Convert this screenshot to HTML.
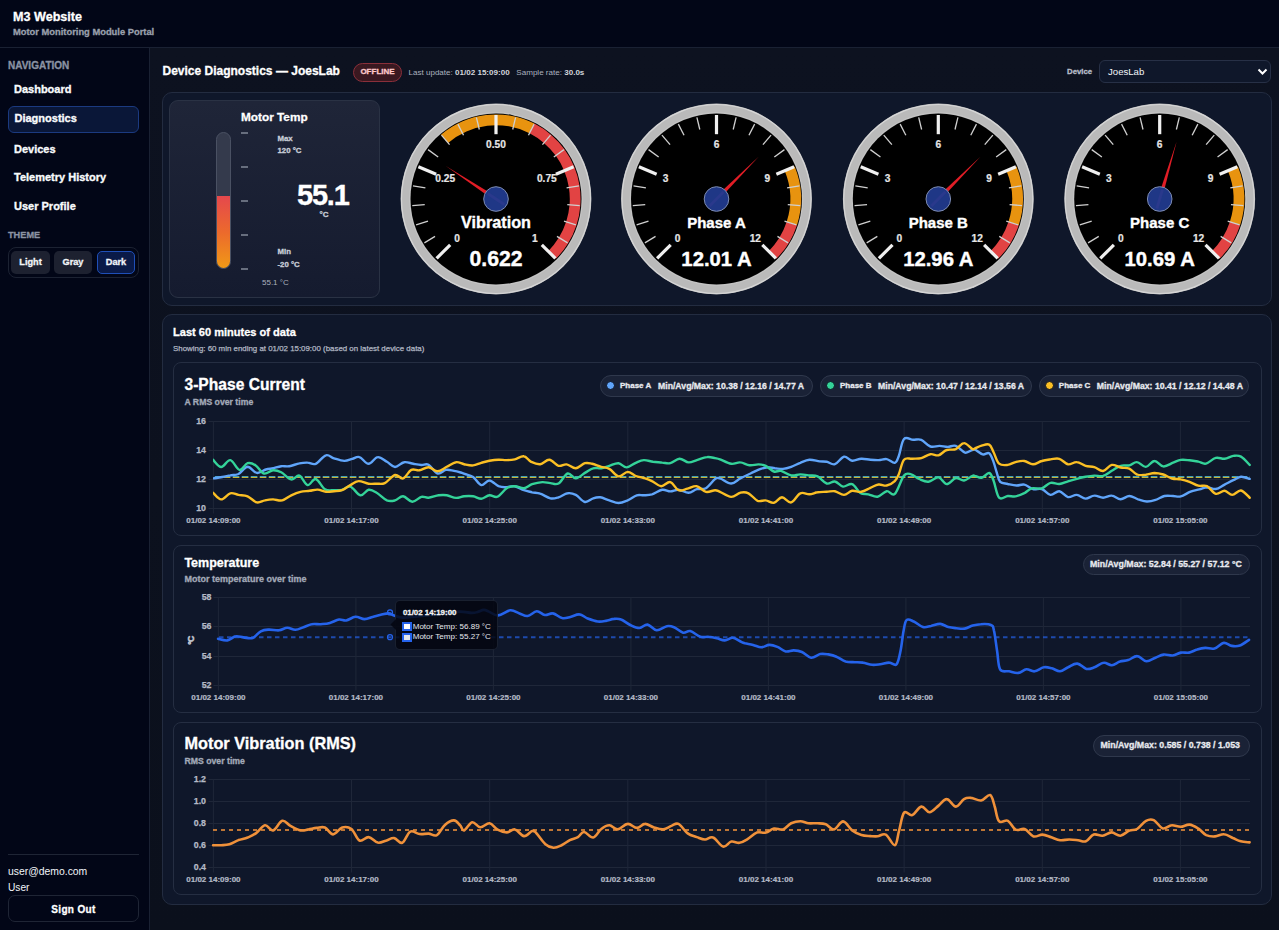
<!DOCTYPE html>
<html><head><meta charset="utf-8"><title>M3 Website</title>
<style>
*{box-sizing:border-box;margin:0;padding:0}
html,body{width:1279px;height:930px;overflow:hidden}
body{font-family:"Liberation Sans",sans-serif;background:#0b101c;color:#e5e7eb;position:relative}
.abs{position:absolute}
.hdr{left:0;top:0;width:1279px;height:48px;background:#020617;border-bottom:1px solid #1a2133}
.side{left:0;top:48px;width:150px;height:882px;background:#020617;border-right:1px solid #1a2133}
.main{left:150px;top:48px;width:1129px;height:882px;background:linear-gradient(180deg,#0d1220 0%,#0b101c 100%)}
.t{position:absolute;white-space:nowrap;line-height:1}
.b{font-weight:bold;-webkit-text-stroke:0.3px currentColor}
.nav{-webkit-text-stroke:0.35px currentColor}
.nav{color:#f8fafc;font-weight:bold;font-size:11px}
.card{position:absolute;border:1px solid #232c40;border-radius:10px;background:#0f172a}
.pill{position:absolute;border:1px solid #2f384c;border-radius:11px;background:#1a2236;height:21.8px}
</style></head>
<body>
<div class="abs hdr"></div>
<div class="t b" style="left:13px;top:11px;font-size:12.6px;color:#fff">M3 Website</div>
<div class="t b" style="left:13px;top:28px;font-size:9.35px;color:#9aa0ad">Motor Monitoring Module Portal</div>
<div class="abs side"></div>
<div class="t b" style="left:8px;top:60.5px;font-size:10px;color:#8b93a3">NAVIGATION</div>
<div class="abs" style="left:8px;top:106px;width:131px;height:27px;background:#0a1738;border:1px solid #1b3a80;border-radius:6px"></div>
<div class="t nav" style="left:14px;top:83.9px">Dashboard</div>
<div class="t nav" style="left:14.5px;top:113px">Diagnostics</div>
<div class="t nav" style="left:14px;top:143.9px">Devices</div>
<div class="t nav" style="left:14px;top:171.9px">Telemetry History</div>
<div class="t nav" style="left:14px;top:200.9px">User Profile</div>
<div class="t b" style="left:8px;top:230.5px;font-size:9.2px;color:#8b93a3">THEME</div>
<div class="abs" style="left:8px;top:247px;width:131px;height:31px;border:1px solid #1c2232;border-radius:8px"></div>
<div class="abs" style="left:11px;top:251px;width:39px;height:23px;background:#1d2130;border-radius:5px"></div>
<div class="abs" style="left:54px;top:251px;width:38px;height:23px;background:#1d2130;border-radius:5px"></div>
<div class="abs" style="left:97px;top:251px;width:38px;height:23px;background:#0a1a48;border:1px solid #1f4fb8;border-radius:5px"></div>
<div class="t b" style="left:10.5px;width:40px;text-align:center;top:258px;font-size:9.2px;color:#f1f5f9">Light</div>
<div class="t b" style="left:53px;width:40px;text-align:center;top:258px;font-size:9.2px;color:#f1f5f9">Gray</div>
<div class="t b" style="left:96px;width:40px;text-align:center;top:258px;font-size:9.2px;color:#f1f5f9">Dark</div>
<div class="abs" style="left:8px;top:854px;width:131px;height:1px;background:#1f2535"></div>
<div class="t" style="left:8px;top:866.8px;font-size:10.4px;color:#f1f5f9">user@demo.com</div>
<div class="t" style="left:8px;top:882.8px;font-size:10.2px;color:#f1f5f9">User</div>
<div class="abs" style="left:8px;top:895px;width:131px;height:27px;border:1px solid #1f2535;border-radius:7px"></div>
<div class="t b" style="left:8px;width:131px;text-align:center;top:904.8px;font-size:10px;letter-spacing:0.35px;color:#fff">Sign Out</div>
<div class="abs main"></div>
<div class="t b" style="left:162.5px;top:64.6px;font-size:12px;color:#fff">Device Diagnostics — JoesLab</div>
<div class="abs" style="left:353px;top:63px;width:49px;height:19px;border:1px solid #8a2f3a;background:#3a1820;border-radius:10px"></div>
<div class="t b" style="left:353px;width:49px;text-align:center;top:68.3px;font-size:8px;color:#fecaca">OFFLINE</div>
<div class="t" style="left:408.5px;top:68.7px;font-size:8.05px;color:#aab1be">Last update: <b style="color:#d1d5db">01/02 15:09:00</b>&nbsp;&nbsp; Sample rate: <b style="color:#d1d5db">30.0s</b></div>
<div class="t b" style="left:1067px;top:68px;font-size:7.8px;color:#b8bec9">Device</div>
<div class="abs" style="left:1099px;top:60px;width:172px;height:23px;border:1px solid #273046;background:#0f172a;border-radius:6px"></div>
<div class="t" style="left:1108px;top:67px;font-size:9.6px;color:#f1f5f9">JoesLab</div>
<svg class="abs" style="left:1257px;top:68px" width="11" height="8" viewBox="0 0 11 8"><path d="M1.5 1.5 L5.5 5.5 L9.5 1.5" fill="none" stroke="#fff" stroke-width="2"/></svg>
<div class="card" style="left:162px;top:92px;width:1110px;height:214px;background:#0f172a"></div>
<div class="abs" style="left:169px;top:100px;width:211px;height:198px;border:1px solid #2a3244;border-radius:9px;background:linear-gradient(180deg,#1f2538 0%,#151b2f 100%)"></div>
<div class="t b" style="left:241px;top:112px;font-size:11.8px;color:#fff">Motor Temp</div>
<div class="abs" style="left:216px;top:132px;width:15px;height:137px;border:1px solid #4a5163;border-radius:8px;background:#343a4c;overflow:hidden"><div class="abs" style="left:0;top:63px;width:13px;height:73px;background:linear-gradient(180deg,#e5484d 0%,#ec6a2c 50%,#f09a16 100%)"></div></div>
<div class="abs" style="left:241px;top:132px;width:7px;height:2px;background:#676e7e"></div>
<div class="abs" style="left:241px;top:166px;width:7px;height:2px;background:#676e7e"></div>
<div class="abs" style="left:241px;top:200px;width:7px;height:2px;background:#676e7e"></div>
<div class="abs" style="left:241px;top:234px;width:7px;height:2px;background:#676e7e"></div>
<div class="abs" style="left:241px;top:268px;width:7px;height:2px;background:#676e7e"></div>
<div class="t b" style="left:277.5px;top:134.5px;font-size:7.8px;color:#c9ced8">Max</div>
<div class="t b" style="left:277.5px;top:147px;font-size:7.8px;color:#c9ced8">120 °C</div>
<div class="t b" style="left:297px;top:180.8px;font-size:29px;letter-spacing:-1.2px;color:#fff">55.1</div>
<div class="t b" style="left:319.5px;top:210.5px;font-size:8px;color:#c9ced8">°C</div>
<div class="t b" style="left:277.5px;top:247.5px;font-size:7.8px;color:#c9ced8">Min</div>
<div class="t b" style="left:277.5px;top:261px;font-size:7.8px;color:#c9ced8">-20 °C</div>
<div class="t" style="left:262px;top:279px;font-size:8px;color:#aab0bc">55.1 °C</div>
<svg class="abs" style="left:0;top:0" width="1279" height="320" viewBox="0 0 1279 320" font-family="Liberation Sans, sans-serif">
<circle cx="496" cy="199" r="95.4" fill="#bababa"/>
<circle cx="496" cy="199" r="94.5" fill="none" stroke="#d6d6d6" stroke-width="1.1"/>
<circle cx="496" cy="199" r="86.3" fill="none" stroke="#c6c6c6" stroke-width="0.9"/>
<circle cx="496" cy="199" r="85.5" fill="#000"/>
<path d="M441.06 134.67 A84.6 84.6 0 0 1 534.41 123.62 L529.50 133.24 A73.8 73.8 0 0 0 448.07 142.88Z" fill="#e8930f"/>
<path d="M534.41 123.62 A84.6 84.6 0 0 1 555.82 258.82 L548.18 251.18 A73.8 73.8 0 0 0 529.50 133.24Z" fill="#e24343"/>
<line x1="424.38" y1="242.89" x2="435.04" y2="236.36" stroke="#d0d0d0" stroke-width="1.3"/>
<line x1="416.11" y1="224.96" x2="428.00" y2="221.09" stroke="#d0d0d0" stroke-width="1.3"/>
<line x1="412.26" y1="205.59" x2="424.72" y2="204.61" stroke="#d0d0d0" stroke-width="1.3"/>
<line x1="413.03" y1="185.86" x2="425.38" y2="187.81" stroke="#d0d0d0" stroke-width="1.3"/>
<line x1="428.04" y1="149.63" x2="438.16" y2="156.97" stroke="#d0d0d0" stroke-width="1.3"/>
<line x1="441.45" y1="135.13" x2="449.56" y2="144.63" stroke="#d0d0d0" stroke-width="1.3"/>
<line x1="457.86" y1="124.16" x2="463.54" y2="135.29" stroke="#d0d0d0" stroke-width="1.3"/>
<line x1="476.39" y1="117.32" x2="479.31" y2="129.48" stroke="#d0d0d0" stroke-width="1.3"/>
<line x1="515.61" y1="117.32" x2="512.69" y2="129.48" stroke="#d0d0d0" stroke-width="1.3"/>
<line x1="534.14" y1="124.16" x2="528.46" y2="135.29" stroke="#d0d0d0" stroke-width="1.3"/>
<line x1="550.55" y1="135.13" x2="542.44" y2="144.63" stroke="#d0d0d0" stroke-width="1.3"/>
<line x1="563.96" y1="149.63" x2="553.84" y2="156.97" stroke="#d0d0d0" stroke-width="1.3"/>
<line x1="578.97" y1="185.86" x2="566.62" y2="187.81" stroke="#d0d0d0" stroke-width="1.3"/>
<line x1="579.74" y1="205.59" x2="567.28" y2="204.61" stroke="#d0d0d0" stroke-width="1.3"/>
<line x1="575.89" y1="224.96" x2="564.00" y2="221.09" stroke="#d0d0d0" stroke-width="1.3"/>
<line x1="567.62" y1="242.89" x2="556.96" y2="236.36" stroke="#d0d0d0" stroke-width="1.3"/>
<line x1="436.60" y1="258.40" x2="450.18" y2="244.82" stroke="#f0f0f0" stroke-width="3.2"/>
<text x="457.11" y="241.79" text-anchor="middle" font-size="10.2" font-weight="bold" fill="#e6e6e6" stroke="#e6e6e6" stroke-width="0.2">0</text>
<line x1="418.39" y1="166.85" x2="436.13" y2="174.20" stroke="#f0f0f0" stroke-width="3.2"/>
<text x="445.19" y="181.85" text-anchor="middle" font-size="10.2" font-weight="bold" fill="#e6e6e6" stroke="#e6e6e6" stroke-width="0.2">0.25</text>
<line x1="496.00" y1="115.00" x2="496.00" y2="134.20" stroke="#f0f0f0" stroke-width="3.2"/>
<text x="496.00" y="147.90" text-anchor="middle" font-size="10.2" font-weight="bold" fill="#e6e6e6" stroke="#e6e6e6" stroke-width="0.2">0.50</text>
<line x1="573.61" y1="166.85" x2="555.87" y2="174.20" stroke="#f0f0f0" stroke-width="3.2"/>
<text x="546.81" y="181.85" text-anchor="middle" font-size="10.2" font-weight="bold" fill="#e6e6e6" stroke="#e6e6e6" stroke-width="0.2">0.75</text>
<line x1="555.40" y1="258.40" x2="541.82" y2="244.82" stroke="#f0f0f0" stroke-width="3.2"/>
<text x="534.89" y="241.79" text-anchor="middle" font-size="10.2" font-weight="bold" fill="#e6e6e6" stroke="#e6e6e6" stroke-width="0.2">1</text>
<text x="496" y="227.8" text-anchor="middle" font-size="16.2" font-weight="bold" fill="#fff" stroke="#fff" stroke-width="0.35">Vibration</text>
<text x="496" y="265.7" text-anchor="middle" font-size="21.2" font-weight="bold" fill="#fff" stroke="#fff" stroke-width="0.4">0.622</text>
<path d="M494.79 200.84 L445.85 166.06 L497.21 197.16Z" fill="#e11d26"/>
<circle cx="496" cy="199" r="12.3" fill="#1f3786" stroke="#7d8bb0" stroke-width="1"/>
<line x1="504.36" y1="204.49" x2="487.64" y2="193.51" stroke="#2d3a8e" stroke-width="3" opacity="0.8"/>
<circle cx="716.5" cy="199" r="95.4" fill="#bababa"/>
<circle cx="716.5" cy="199" r="94.5" fill="none" stroke="#d6d6d6" stroke-width="1.1"/>
<circle cx="716.5" cy="199" r="86.3" fill="none" stroke="#c6c6c6" stroke-width="0.9"/>
<circle cx="716.5" cy="199" r="85.5" fill="#000"/>
<path d="M794.66 166.62 A84.6 84.6 0 0 1 796.96 225.14 L786.69 221.81 A73.8 73.8 0 0 0 784.68 170.76Z" fill="#e8930f"/>
<path d="M796.96 225.14 A84.6 84.6 0 0 1 776.32 258.82 L768.68 251.18 A73.8 73.8 0 0 0 786.69 221.81Z" fill="#e24343"/>
<line x1="644.88" y1="242.89" x2="655.54" y2="236.36" stroke="#d0d0d0" stroke-width="1.3"/>
<line x1="636.61" y1="224.96" x2="648.50" y2="221.09" stroke="#d0d0d0" stroke-width="1.3"/>
<line x1="632.76" y1="205.59" x2="645.22" y2="204.61" stroke="#d0d0d0" stroke-width="1.3"/>
<line x1="633.53" y1="185.86" x2="645.88" y2="187.81" stroke="#d0d0d0" stroke-width="1.3"/>
<line x1="648.54" y1="149.63" x2="658.66" y2="156.97" stroke="#d0d0d0" stroke-width="1.3"/>
<line x1="661.95" y1="135.13" x2="670.06" y2="144.63" stroke="#d0d0d0" stroke-width="1.3"/>
<line x1="678.36" y1="124.16" x2="684.04" y2="135.29" stroke="#d0d0d0" stroke-width="1.3"/>
<line x1="696.89" y1="117.32" x2="699.81" y2="129.48" stroke="#d0d0d0" stroke-width="1.3"/>
<line x1="736.11" y1="117.32" x2="733.19" y2="129.48" stroke="#d0d0d0" stroke-width="1.3"/>
<line x1="754.64" y1="124.16" x2="748.96" y2="135.29" stroke="#d0d0d0" stroke-width="1.3"/>
<line x1="771.05" y1="135.13" x2="762.94" y2="144.63" stroke="#d0d0d0" stroke-width="1.3"/>
<line x1="784.46" y1="149.63" x2="774.34" y2="156.97" stroke="#d0d0d0" stroke-width="1.3"/>
<line x1="799.47" y1="185.86" x2="787.12" y2="187.81" stroke="#d0d0d0" stroke-width="1.3"/>
<line x1="800.24" y1="205.59" x2="787.78" y2="204.61" stroke="#d0d0d0" stroke-width="1.3"/>
<line x1="796.39" y1="224.96" x2="784.50" y2="221.09" stroke="#d0d0d0" stroke-width="1.3"/>
<line x1="788.12" y1="242.89" x2="777.46" y2="236.36" stroke="#d0d0d0" stroke-width="1.3"/>
<line x1="657.10" y1="258.40" x2="670.68" y2="244.82" stroke="#f0f0f0" stroke-width="3.2"/>
<text x="677.61" y="241.79" text-anchor="middle" font-size="10.2" font-weight="bold" fill="#e6e6e6" stroke="#e6e6e6" stroke-width="0.2">0</text>
<line x1="638.89" y1="166.85" x2="656.63" y2="174.20" stroke="#f0f0f0" stroke-width="3.2"/>
<text x="665.69" y="181.85" text-anchor="middle" font-size="10.2" font-weight="bold" fill="#e6e6e6" stroke="#e6e6e6" stroke-width="0.2">3</text>
<line x1="716.50" y1="115.00" x2="716.50" y2="134.20" stroke="#f0f0f0" stroke-width="3.2"/>
<text x="716.50" y="147.90" text-anchor="middle" font-size="10.2" font-weight="bold" fill="#e6e6e6" stroke="#e6e6e6" stroke-width="0.2">6</text>
<line x1="794.11" y1="166.85" x2="776.37" y2="174.20" stroke="#f0f0f0" stroke-width="3.2"/>
<text x="767.31" y="181.85" text-anchor="middle" font-size="10.2" font-weight="bold" fill="#e6e6e6" stroke="#e6e6e6" stroke-width="0.2">9</text>
<line x1="775.90" y1="258.40" x2="762.32" y2="244.82" stroke="#f0f0f0" stroke-width="3.2"/>
<text x="755.39" y="241.79" text-anchor="middle" font-size="10.2" font-weight="bold" fill="#e6e6e6" stroke="#e6e6e6" stroke-width="0.2">12</text>
<text x="716.5" y="227.8" text-anchor="middle" font-size="15" font-weight="bold" fill="#fff" stroke="#fff" stroke-width="0.35">Phase A</text>
<text x="716.5" y="265.7" text-anchor="middle" font-size="20.3" font-weight="bold" fill="#fff" stroke="#fff" stroke-width="0.4">12.01 A</text>
<path d="M714.94 197.45 L758.85 156.50 L718.06 200.55Z" fill="#e11d26"/>
<circle cx="716.5" cy="199" r="12.3" fill="#1f3786" stroke="#7d8bb0" stroke-width="1"/>
<line x1="709.44" y1="206.08" x2="723.56" y2="191.92" stroke="#2d3a8e" stroke-width="3" opacity="0.8"/>
<circle cx="938.3" cy="199" r="95.4" fill="#bababa"/>
<circle cx="938.3" cy="199" r="94.5" fill="none" stroke="#d6d6d6" stroke-width="1.1"/>
<circle cx="938.3" cy="199" r="86.3" fill="none" stroke="#c6c6c6" stroke-width="0.9"/>
<circle cx="938.3" cy="199" r="85.5" fill="#000"/>
<path d="M1016.46 166.62 A84.6 84.6 0 0 1 1018.76 225.14 L1008.49 221.81 A73.8 73.8 0 0 0 1006.48 170.76Z" fill="#e8930f"/>
<path d="M1018.76 225.14 A84.6 84.6 0 0 1 998.12 258.82 L990.48 251.18 A73.8 73.8 0 0 0 1008.49 221.81Z" fill="#e24343"/>
<line x1="866.68" y1="242.89" x2="877.34" y2="236.36" stroke="#d0d0d0" stroke-width="1.3"/>
<line x1="858.41" y1="224.96" x2="870.30" y2="221.09" stroke="#d0d0d0" stroke-width="1.3"/>
<line x1="854.56" y1="205.59" x2="867.02" y2="204.61" stroke="#d0d0d0" stroke-width="1.3"/>
<line x1="855.33" y1="185.86" x2="867.68" y2="187.81" stroke="#d0d0d0" stroke-width="1.3"/>
<line x1="870.34" y1="149.63" x2="880.46" y2="156.97" stroke="#d0d0d0" stroke-width="1.3"/>
<line x1="883.75" y1="135.13" x2="891.86" y2="144.63" stroke="#d0d0d0" stroke-width="1.3"/>
<line x1="900.16" y1="124.16" x2="905.84" y2="135.29" stroke="#d0d0d0" stroke-width="1.3"/>
<line x1="918.69" y1="117.32" x2="921.61" y2="129.48" stroke="#d0d0d0" stroke-width="1.3"/>
<line x1="957.91" y1="117.32" x2="954.99" y2="129.48" stroke="#d0d0d0" stroke-width="1.3"/>
<line x1="976.44" y1="124.16" x2="970.76" y2="135.29" stroke="#d0d0d0" stroke-width="1.3"/>
<line x1="992.85" y1="135.13" x2="984.74" y2="144.63" stroke="#d0d0d0" stroke-width="1.3"/>
<line x1="1006.26" y1="149.63" x2="996.14" y2="156.97" stroke="#d0d0d0" stroke-width="1.3"/>
<line x1="1021.27" y1="185.86" x2="1008.92" y2="187.81" stroke="#d0d0d0" stroke-width="1.3"/>
<line x1="1022.04" y1="205.59" x2="1009.58" y2="204.61" stroke="#d0d0d0" stroke-width="1.3"/>
<line x1="1018.19" y1="224.96" x2="1006.30" y2="221.09" stroke="#d0d0d0" stroke-width="1.3"/>
<line x1="1009.92" y1="242.89" x2="999.26" y2="236.36" stroke="#d0d0d0" stroke-width="1.3"/>
<line x1="878.90" y1="258.40" x2="892.48" y2="244.82" stroke="#f0f0f0" stroke-width="3.2"/>
<text x="899.41" y="241.79" text-anchor="middle" font-size="10.2" font-weight="bold" fill="#e6e6e6" stroke="#e6e6e6" stroke-width="0.2">0</text>
<line x1="860.69" y1="166.85" x2="878.43" y2="174.20" stroke="#f0f0f0" stroke-width="3.2"/>
<text x="887.49" y="181.85" text-anchor="middle" font-size="10.2" font-weight="bold" fill="#e6e6e6" stroke="#e6e6e6" stroke-width="0.2">3</text>
<line x1="938.30" y1="115.00" x2="938.30" y2="134.20" stroke="#f0f0f0" stroke-width="3.2"/>
<text x="938.30" y="147.90" text-anchor="middle" font-size="10.2" font-weight="bold" fill="#e6e6e6" stroke="#e6e6e6" stroke-width="0.2">6</text>
<line x1="1015.91" y1="166.85" x2="998.17" y2="174.20" stroke="#f0f0f0" stroke-width="3.2"/>
<text x="989.11" y="181.85" text-anchor="middle" font-size="10.2" font-weight="bold" fill="#e6e6e6" stroke="#e6e6e6" stroke-width="0.2">9</text>
<line x1="997.70" y1="258.40" x2="984.12" y2="244.82" stroke="#f0f0f0" stroke-width="3.2"/>
<text x="977.19" y="241.79" text-anchor="middle" font-size="10.2" font-weight="bold" fill="#e6e6e6" stroke="#e6e6e6" stroke-width="0.2">12</text>
<text x="938.3" y="227.8" text-anchor="middle" font-size="15" font-weight="bold" fill="#fff" stroke="#fff" stroke-width="0.35">Phase B</text>
<text x="938.3" y="265.7" text-anchor="middle" font-size="20.3" font-weight="bold" fill="#fff" stroke="#fff" stroke-width="0.4">12.96 A</text>
<path d="M936.74 197.45 L980.65 156.50 L939.86 200.55Z" fill="#e11d26"/>
<circle cx="938.3" cy="199" r="12.3" fill="#1f3786" stroke="#7d8bb0" stroke-width="1"/>
<line x1="931.24" y1="206.08" x2="945.36" y2="191.92" stroke="#2d3a8e" stroke-width="3" opacity="0.8"/>
<circle cx="1159.7" cy="199" r="95.4" fill="#bababa"/>
<circle cx="1159.7" cy="199" r="94.5" fill="none" stroke="#d6d6d6" stroke-width="1.1"/>
<circle cx="1159.7" cy="199" r="86.3" fill="none" stroke="#c6c6c6" stroke-width="0.9"/>
<circle cx="1159.7" cy="199" r="85.5" fill="#000"/>
<path d="M1237.86 166.62 A84.6 84.6 0 0 1 1240.16 225.14 L1229.89 221.81 A73.8 73.8 0 0 0 1227.88 170.76Z" fill="#e8930f"/>
<path d="M1240.16 225.14 A84.6 84.6 0 0 1 1219.52 258.82 L1211.88 251.18 A73.8 73.8 0 0 0 1229.89 221.81Z" fill="#e24343"/>
<line x1="1088.08" y1="242.89" x2="1098.74" y2="236.36" stroke="#d0d0d0" stroke-width="1.3"/>
<line x1="1079.81" y1="224.96" x2="1091.70" y2="221.09" stroke="#d0d0d0" stroke-width="1.3"/>
<line x1="1075.96" y1="205.59" x2="1088.42" y2="204.61" stroke="#d0d0d0" stroke-width="1.3"/>
<line x1="1076.73" y1="185.86" x2="1089.08" y2="187.81" stroke="#d0d0d0" stroke-width="1.3"/>
<line x1="1091.74" y1="149.63" x2="1101.86" y2="156.97" stroke="#d0d0d0" stroke-width="1.3"/>
<line x1="1105.15" y1="135.13" x2="1113.26" y2="144.63" stroke="#d0d0d0" stroke-width="1.3"/>
<line x1="1121.56" y1="124.16" x2="1127.24" y2="135.29" stroke="#d0d0d0" stroke-width="1.3"/>
<line x1="1140.09" y1="117.32" x2="1143.01" y2="129.48" stroke="#d0d0d0" stroke-width="1.3"/>
<line x1="1179.31" y1="117.32" x2="1176.39" y2="129.48" stroke="#d0d0d0" stroke-width="1.3"/>
<line x1="1197.84" y1="124.16" x2="1192.16" y2="135.29" stroke="#d0d0d0" stroke-width="1.3"/>
<line x1="1214.25" y1="135.13" x2="1206.14" y2="144.63" stroke="#d0d0d0" stroke-width="1.3"/>
<line x1="1227.66" y1="149.63" x2="1217.54" y2="156.97" stroke="#d0d0d0" stroke-width="1.3"/>
<line x1="1242.67" y1="185.86" x2="1230.32" y2="187.81" stroke="#d0d0d0" stroke-width="1.3"/>
<line x1="1243.44" y1="205.59" x2="1230.98" y2="204.61" stroke="#d0d0d0" stroke-width="1.3"/>
<line x1="1239.59" y1="224.96" x2="1227.70" y2="221.09" stroke="#d0d0d0" stroke-width="1.3"/>
<line x1="1231.32" y1="242.89" x2="1220.66" y2="236.36" stroke="#d0d0d0" stroke-width="1.3"/>
<line x1="1100.30" y1="258.40" x2="1113.88" y2="244.82" stroke="#f0f0f0" stroke-width="3.2"/>
<text x="1120.81" y="241.79" text-anchor="middle" font-size="10.2" font-weight="bold" fill="#e6e6e6" stroke="#e6e6e6" stroke-width="0.2">0</text>
<line x1="1082.09" y1="166.85" x2="1099.83" y2="174.20" stroke="#f0f0f0" stroke-width="3.2"/>
<text x="1108.89" y="181.85" text-anchor="middle" font-size="10.2" font-weight="bold" fill="#e6e6e6" stroke="#e6e6e6" stroke-width="0.2">3</text>
<line x1="1159.70" y1="115.00" x2="1159.70" y2="134.20" stroke="#f0f0f0" stroke-width="3.2"/>
<text x="1159.70" y="147.90" text-anchor="middle" font-size="10.2" font-weight="bold" fill="#e6e6e6" stroke="#e6e6e6" stroke-width="0.2">6</text>
<line x1="1237.31" y1="166.85" x2="1219.57" y2="174.20" stroke="#f0f0f0" stroke-width="3.2"/>
<text x="1210.51" y="181.85" text-anchor="middle" font-size="10.2" font-weight="bold" fill="#e6e6e6" stroke="#e6e6e6" stroke-width="0.2">9</text>
<line x1="1219.10" y1="258.40" x2="1205.52" y2="244.82" stroke="#f0f0f0" stroke-width="3.2"/>
<text x="1198.59" y="241.79" text-anchor="middle" font-size="10.2" font-weight="bold" fill="#e6e6e6" stroke="#e6e6e6" stroke-width="0.2">12</text>
<text x="1159.7" y="227.8" text-anchor="middle" font-size="15" font-weight="bold" fill="#fff" stroke="#fff" stroke-width="0.35">Phase C</text>
<text x="1159.7" y="265.7" text-anchor="middle" font-size="20.3" font-weight="bold" fill="#fff" stroke="#fff" stroke-width="0.4">10.69 A</text>
<path d="M1157.59 198.38 L1176.64 141.44 L1161.81 199.62Z" fill="#e11d26"/>
<circle cx="1159.7" cy="199" r="12.3" fill="#1f3786" stroke="#7d8bb0" stroke-width="1"/>
<line x1="1156.88" y1="208.59" x2="1162.52" y2="189.41" stroke="#2d3a8e" stroke-width="3" opacity="0.8"/>
</svg>
<div class="card" style="left:162px;top:314px;width:1110px;height:591px;background:#0f172a"></div>
<div class="t b" style="left:173px;top:327px;font-size:11.05px;color:#fff">Last 60 minutes of data</div>
<div class="t" style="left:173px;top:345px;font-size:7.9px;color:#b0b6c2;-webkit-text-stroke:0.25px currentColor">Showing: 60 min ending at 01/02 15:09:00 (based on latest device data)</div>
<div class="card" style="left:173px;top:362px;width:1089px;height:174px;border-radius:8px;background:#0f172a;border-color:#252e42"></div>
<div class="card" style="left:173px;top:544.5px;width:1089px;height:168px;border-radius:8px;background:#0f172a;border-color:#252e42"></div>
<div class="card" style="left:173px;top:721.5px;width:1089px;height:173.5px;border-radius:8px;background:#0f172a;border-color:#252e42"></div>
<div class="t b" style="left:184.5px;top:377px;font-size:15.6px;color:#fff">3-Phase Current</div>
<div class="t b" style="left:184.5px;top:398.2px;font-size:8.7px;color:#a3aab8">A RMS over time</div>
<div class="pill" style="left:600.3px;top:375.3px;width:212.30000000000007px"></div>
<div class="abs" style="left:606.0999999999999px;top:381px;width:9px;height:9px;border-radius:50%;background:#60a5fa;border:1px solid #0b1120"></div>
<div class="t b" style="left:620.0px;top:382.3px;font-size:8px;color:#e8eaef">Phase A</div>
<div class="t b" style="left:658.0px;top:382px;font-size:8.7px;color:#e8eaef">Min/Avg/Max: 10.38 / 12.16 / 14.77 A</div>
<div class="pill" style="left:820.3px;top:375.3px;width:211.29999999999995px"></div>
<div class="abs" style="left:826.0999999999999px;top:381px;width:9px;height:9px;border-radius:50%;background:#34d399;border:1px solid #0b1120"></div>
<div class="t b" style="left:840.0px;top:382.3px;font-size:8px;color:#e8eaef">Phase B</div>
<div class="t b" style="left:878.0px;top:382px;font-size:8.7px;color:#e8eaef">Min/Avg/Max: 10.47 / 12.14 / 13.56 A</div>
<div class="pill" style="left:1039.1px;top:375.3px;width:210.30000000000018px"></div>
<div class="abs" style="left:1044.8999999999999px;top:381px;width:9px;height:9px;border-radius:50%;background:#fbbf24;border:1px solid #0b1120"></div>
<div class="t b" style="left:1058.8px;top:382.3px;font-size:8px;color:#e8eaef">Phase C</div>
<div class="t b" style="left:1096.8px;top:382px;font-size:8.7px;color:#e8eaef">Min/Avg/Max: 10.41 / 12.12 / 14.48 A</div>
<div class="t b" style="left:184.4px;top:556.6px;font-size:12.5px;color:#fff">Temperature</div>
<div class="t b" style="left:184.4px;top:574.5px;font-size:9px;color:#a3aab8">Motor temperature over time</div>
<div class="pill" style="left:1082.5px;top:553.6px;width:167.5px"></div>
<div class="t b" style="left:1090px;top:559.7px;font-size:8.8px;color:#e8eaef">Min/Avg/Max: 52.84 / 55.27 / 57.12 °C</div>
<div class="t b" style="left:184.5px;top:734.6px;font-size:16.3px;color:#fff">Motor Vibration (RMS)</div>
<div class="t b" style="left:184.5px;top:757.2px;font-size:8.7px;color:#a3aab8">RMS over time</div>
<div class="pill" style="left:1093px;top:735px;width:157px"></div>
<div class="t b" style="left:1100.5px;top:741.2px;font-size:8.8px;color:#e8eaef">Min/Avg/Max: 0.585 / 0.738 / 1.053</div>
<svg class="abs" style="left:0;top:0" width="1279" height="930" viewBox="0 0 1279 930" font-family="Liberation Sans, sans-serif">
<line x1="208.5" y1="421.5" x2="1250" y2="421.5" stroke="#1f2739" stroke-width="1"/>
<text x="206" y="424.4" text-anchor="end" font-size="8.8" font-weight="bold" fill="#b4bac6" stroke="#b4bac6" stroke-width="0.25">16</text>
<line x1="208.5" y1="450.5" x2="1250" y2="450.5" stroke="#1f2739" stroke-width="1"/>
<text x="206" y="453.4" text-anchor="end" font-size="8.8" font-weight="bold" fill="#b4bac6" stroke="#b4bac6" stroke-width="0.25">14</text>
<line x1="208.5" y1="479.5" x2="1250" y2="479.5" stroke="#1f2739" stroke-width="1"/>
<text x="206" y="482.4" text-anchor="end" font-size="8.8" font-weight="bold" fill="#b4bac6" stroke="#b4bac6" stroke-width="0.25">12</text>
<line x1="208.5" y1="508.5" x2="1250" y2="508.5" stroke="#1f2739" stroke-width="1"/>
<text x="206" y="511.4" text-anchor="end" font-size="8.8" font-weight="bold" fill="#b4bac6" stroke="#b4bac6" stroke-width="0.25">10</text>
<line x1="213.4" y1="421.5" x2="213.4" y2="513.5" stroke="#1f2739" stroke-width="1"/>
<text x="213.4" y="523" text-anchor="middle" font-size="8" font-weight="bold" fill="#b4bac6" stroke="#b4bac6" stroke-width="0.2">01/02 14:09:00</text>
<line x1="351.5" y1="421.5" x2="351.5" y2="513.5" stroke="#1f2739" stroke-width="1"/>
<text x="351.5" y="523" text-anchor="middle" font-size="8" font-weight="bold" fill="#b4bac6" stroke="#b4bac6" stroke-width="0.2">01/02 14:17:00</text>
<line x1="489.7" y1="421.5" x2="489.7" y2="513.5" stroke="#1f2739" stroke-width="1"/>
<text x="489.7" y="523" text-anchor="middle" font-size="8" font-weight="bold" fill="#b4bac6" stroke="#b4bac6" stroke-width="0.2">01/02 14:25:00</text>
<line x1="627.8" y1="421.5" x2="627.8" y2="513.5" stroke="#1f2739" stroke-width="1"/>
<text x="627.8" y="523" text-anchor="middle" font-size="8" font-weight="bold" fill="#b4bac6" stroke="#b4bac6" stroke-width="0.2">01/02 14:33:00</text>
<line x1="766.0" y1="421.5" x2="766.0" y2="513.5" stroke="#1f2739" stroke-width="1"/>
<text x="766.0" y="523" text-anchor="middle" font-size="8" font-weight="bold" fill="#b4bac6" stroke="#b4bac6" stroke-width="0.2">01/02 14:41:00</text>
<line x1="904.1" y1="421.5" x2="904.1" y2="513.5" stroke="#1f2739" stroke-width="1"/>
<text x="904.1" y="523" text-anchor="middle" font-size="8" font-weight="bold" fill="#b4bac6" stroke="#b4bac6" stroke-width="0.2">01/02 14:49:00</text>
<line x1="1042.3" y1="421.5" x2="1042.3" y2="513.5" stroke="#1f2739" stroke-width="1"/>
<text x="1042.3" y="523" text-anchor="middle" font-size="8" font-weight="bold" fill="#b4bac6" stroke="#b4bac6" stroke-width="0.2">01/02 14:57:00</text>
<line x1="1180.4" y1="421.5" x2="1180.4" y2="513.5" stroke="#1f2739" stroke-width="1"/>
<text x="1180.4" y="523" text-anchor="middle" font-size="8" font-weight="bold" fill="#b4bac6" stroke="#b4bac6" stroke-width="0.2">01/02 15:05:00</text>
<clipPath id="c1"><rect x="213" y="418" width="1038" height="92"/></clipPath>
<g clip-path="url(#c1)">
<line x1="213" y1="476.7" x2="1250" y2="476.7" stroke="#60a5fa" stroke-width="1.2" stroke-dasharray="6.5 2.5" stroke-dashoffset="7.2" opacity="0.75"/>
<line x1="213" y1="477.1" x2="1250" y2="477.1" stroke="#34d399" stroke-width="1.2" stroke-dasharray="6.5 2.5" stroke-dashoffset="7.2" opacity="0.75"/>
<line x1="213" y1="477.5" x2="1250" y2="477.5" stroke="#fbbf24" stroke-width="1.2" stroke-dasharray="6.5 2.5" stroke-dashoffset="7.2" opacity="0.75"/>
<path d="M213.0 478.4 C214.7 478.2 219.2 477.5 222.2 477.0 C225.2 476.5 227.5 475.9 230.3 475.4 C233.2 474.8 235.4 475.4 238.5 474.0 C241.5 472.5 244.4 467.0 247.6 466.8 C250.8 466.7 253.6 472.5 256.8 472.9 C260.0 473.4 263.1 470.3 265.9 469.5 C268.8 468.7 270.4 468.8 273.0 468.3 C275.7 467.7 278.3 466.6 281.2 466.2 C284.0 465.9 286.1 466.7 289.3 466.2 C292.5 465.7 296.2 464.0 299.4 463.4 C302.7 462.7 304.7 462.5 307.6 462.6 C310.4 462.6 312.5 465.1 315.7 463.8 C318.9 462.5 322.7 456.2 325.9 455.3 C329.1 454.3 330.8 457.3 334.0 458.3 C337.2 459.3 341.0 460.8 344.2 460.9 C347.4 461.1 349.6 459.6 352.3 458.9 C355.0 458.2 356.6 456.2 359.4 457.1 C362.3 457.9 365.4 463.8 368.6 463.8 C371.8 463.8 374.5 457.4 377.7 457.1 C380.9 456.7 383.8 460.0 386.9 461.8 C389.9 463.5 392.0 467.0 395.0 467.0 C398.0 467.1 400.9 462.7 404.1 462.2 C407.3 461.6 410.3 463.3 413.3 463.8 C416.3 464.3 418.8 464.8 421.4 465.0 C424.1 465.2 425.7 463.3 428.5 464.8 C431.4 466.3 434.7 472.7 437.7 473.5 C440.7 474.4 443.0 470.4 445.8 469.9 C448.7 469.4 451.1 470.4 454.0 470.9 C456.8 471.4 460.2 472.4 462.1 472.9 C464.0 473.5 463.1 473.2 465.0 474.0 C466.9 474.7 470.3 475.0 473.1 477.0 C476.0 479.0 478.4 484.5 481.3 485.1 C484.1 485.7 486.4 480.3 489.4 480.5 C492.4 480.6 495.7 485.0 498.5 486.2 C501.4 487.3 502.8 487.2 505.7 487.2 C508.5 487.2 511.6 485.6 514.8 486.2 C518.0 486.7 520.9 489.2 524.0 490.2 C527.0 491.3 529.2 491.6 532.1 492.3 C534.9 492.9 537.0 492.6 540.2 493.7 C543.4 494.7 547.2 497.7 550.4 498.4 C553.6 499.0 555.5 498.2 558.5 497.3 C561.5 496.4 564.6 493.7 567.7 493.3 C570.7 492.8 572.8 493.4 575.8 494.9 C578.8 496.4 581.9 501.4 584.9 502.0 C588.0 502.6 590.4 499.2 593.1 498.4 C595.7 497.5 597.3 497.0 600.2 497.3 C603.0 497.7 606.1 499.4 609.3 500.4 C612.5 501.4 615.3 503.0 618.5 503.0 C621.7 503.0 624.4 501.7 627.6 500.4 C630.8 499.0 633.9 496.2 636.8 495.3 C639.6 494.4 641.2 495.5 643.9 495.3 C646.6 495.1 648.8 495.2 652.0 494.3 C655.2 493.3 659.0 490.3 662.2 489.8 C665.4 489.3 667.5 491.4 670.3 491.4 C673.2 491.4 675.3 489.6 678.5 489.8 C681.7 490.0 685.4 492.8 688.6 492.7 C691.8 492.6 693.7 490.0 696.8 489.2 C699.8 488.4 702.7 490.0 705.9 488.2 C709.1 486.4 712.6 480.7 715.1 479.0 C717.5 477.3 717.2 477.6 720.0 478.4 C722.8 479.2 727.6 483.5 731.2 483.5 C734.7 483.5 736.9 480.2 740.3 478.4 C743.7 476.7 746.9 475.2 750.5 473.5 C754.1 471.9 757.6 470.0 760.7 468.9 C763.7 467.8 765.3 467.4 767.8 467.2 C770.3 467.1 772.2 468.0 774.9 468.3 C777.6 468.5 780.2 469.1 783.0 468.9 C785.9 468.6 788.1 467.9 791.2 466.8 C794.2 465.8 797.1 464.0 800.3 462.8 C803.5 461.5 806.1 460.0 809.4 459.7 C812.8 459.5 816.6 461.0 819.6 461.4 C822.6 461.7 824.1 461.3 826.7 461.8 C829.4 462.3 831.8 465.1 834.9 464.2 C837.9 463.3 841.0 457.3 844.0 456.7 C847.0 456.1 849.1 460.4 852.1 460.7 C855.2 461.1 858.1 458.9 861.3 458.7 C864.5 458.5 867.4 459.5 870.4 459.7 C873.5 460.0 875.7 460.2 878.6 460.1 C881.4 460.0 883.9 458.7 886.7 459.1 C889.5 459.6 892.7 463.4 894.8 462.8 C897.0 462.2 897.3 459.8 898.9 455.7 C900.5 451.5 901.5 441.8 904.0 439.0 C906.5 436.2 910.1 439.7 913.1 439.8 C916.2 439.9 918.2 438.6 921.3 439.8 C924.3 441.0 927.2 445.4 930.4 446.5 C933.6 447.6 936.5 445.8 939.6 445.9 C942.6 446.0 944.8 446.9 947.7 446.9 C950.5 446.9 952.8 444.9 955.8 445.9 C958.8 446.9 962.1 451.9 965.0 452.6 C967.8 453.3 970.3 450.5 972.1 450.0 C973.8 449.4 973.1 448.8 975.0 449.6 C976.9 450.4 980.2 453.8 982.7 454.4 C985.2 455.1 987.3 452.0 989.2 453.3 C991.1 454.7 992.3 458.6 993.6 462.1 C994.9 465.5 995.7 469.6 996.9 473.0 C998.0 476.5 998.3 479.9 1000.2 481.8 C1002.1 483.7 1005.0 483.3 1007.8 484.0 C1010.7 484.6 1013.7 485.4 1016.6 485.5 C1019.5 485.6 1021.4 484.0 1024.3 484.6 C1027.1 485.2 1029.9 488.2 1033.0 489.0 C1036.1 489.8 1038.7 488.0 1041.8 489.0 C1044.8 490.0 1047.5 494.5 1050.5 494.9 C1053.6 495.3 1056.2 490.8 1059.3 491.2 C1062.3 491.6 1065.0 496.4 1068.0 497.1 C1071.1 497.7 1073.7 494.6 1076.8 494.9 C1079.9 495.2 1082.5 498.5 1085.6 498.6 C1088.6 498.7 1091.2 495.7 1094.3 495.6 C1097.4 495.4 1100.0 497.7 1103.1 497.7 C1106.1 497.7 1108.8 495.3 1111.8 495.6 C1114.9 495.8 1117.5 499.2 1120.6 499.3 C1123.6 499.4 1126.3 496.0 1129.3 496.0 C1132.4 496.0 1135.0 498.3 1138.1 499.3 C1141.2 500.2 1143.8 501.4 1146.8 501.5 C1149.9 501.6 1152.5 500.9 1155.6 499.9 C1158.7 499.0 1161.3 496.7 1164.4 496.0 C1167.4 495.3 1170.2 495.9 1173.1 496.0 C1176.0 496.1 1177.7 497.2 1180.8 496.4 C1183.8 495.7 1187.4 492.8 1190.6 491.6 C1193.9 490.4 1196.5 490.2 1199.4 489.4 C1202.3 488.7 1204.2 487.3 1207.0 487.2 C1209.9 487.2 1212.7 489.5 1215.8 489.0 C1218.9 488.5 1221.5 486.1 1224.6 484.6 C1227.6 483.1 1230.4 481.6 1233.3 480.2 C1236.2 478.9 1238.1 477.0 1241.0 476.7 C1243.9 476.5 1248.2 478.5 1249.7 478.9" fill="none" stroke="#60a5fa" stroke-width="2.4" stroke-linejoin="round" stroke-linecap="round"/>
<path d="M213.0 459.7 C214.5 461.0 218.2 467.0 221.2 467.0 C224.2 467.1 227.1 459.6 230.3 460.1 C233.5 460.6 236.5 469.4 239.5 469.9 C242.5 470.4 244.8 464.0 247.6 463.2 C250.5 462.4 252.9 463.6 255.7 465.4 C258.6 467.2 260.8 472.7 263.9 473.5 C266.9 474.4 270.0 470.5 273.0 470.3 C276.0 470.1 278.0 470.7 281.2 472.3 C284.4 473.9 288.1 478.9 291.3 479.4 C294.5 480.0 296.6 474.6 299.4 475.6 C302.3 476.6 304.7 484.5 307.6 485.1 C310.4 485.7 312.7 478.3 315.7 479.0 C318.7 479.7 321.7 487.2 324.9 489.2 C328.1 491.2 331.0 490.1 334.0 490.2 C337.0 490.3 339.3 490.5 342.1 489.8 C345.0 489.2 347.1 485.6 350.3 486.6 C353.5 487.5 357.2 494.7 360.4 495.3 C363.6 495.9 365.7 490.3 368.6 489.8 C371.4 489.3 373.5 490.8 376.7 492.7 C379.9 494.5 383.7 499.0 386.9 500.4 C390.1 501.7 392.2 501.1 395.0 500.4 C397.8 499.7 400.1 496.1 403.1 496.3 C406.2 496.6 409.1 501.7 412.3 501.8 C415.5 501.9 418.6 497.6 421.4 496.9 C424.3 496.2 425.5 498.0 428.5 497.7 C431.6 497.5 435.5 495.7 438.7 495.3 C441.9 494.9 443.8 494.8 446.8 495.3 C449.9 495.8 453.0 497.8 456.0 497.9 C459.0 498.1 461.1 496.6 464.1 496.3 C467.1 496.0 470.1 495.9 473.1 496.3 C476.1 496.7 478.4 498.9 481.3 498.8 C484.1 498.6 486.5 495.7 489.4 495.3 C492.2 494.9 494.5 498.0 497.5 496.7 C500.6 495.5 503.7 490.0 506.7 488.2 C509.7 486.3 511.8 486.2 514.8 486.2 C517.8 486.2 520.9 488.5 524.0 488.2 C527.0 487.8 528.9 485.2 532.1 484.1 C535.3 483.1 539.0 482.3 542.3 482.1 C545.5 481.9 547.5 482.9 550.4 483.1 C553.2 483.4 555.5 485.2 558.5 483.5 C561.5 481.8 564.6 474.4 567.7 473.5 C570.7 472.7 572.8 478.5 575.8 478.4 C578.8 478.3 581.9 474.7 584.9 472.9 C588.0 471.2 590.2 469.1 593.1 468.3 C595.9 467.4 598.4 468.7 601.2 468.3 C604.1 467.8 606.3 466.7 609.3 465.8 C612.4 464.9 615.5 462.9 618.5 463.2 C621.5 463.5 623.6 467.5 626.6 467.4 C629.6 467.4 632.7 464.1 635.8 462.8 C638.8 461.5 640.9 460.3 643.9 460.1 C646.9 460.0 649.8 461.3 653.0 461.8 C656.2 462.2 659.2 462.3 662.2 462.6 C665.2 462.8 667.3 463.9 670.3 463.2 C673.4 462.5 676.3 458.9 679.5 458.7 C682.7 458.6 685.6 462.1 688.6 462.4 C691.6 462.6 693.6 461.1 696.8 460.1 C700.0 459.2 703.7 457.4 706.9 457.1 C710.1 456.7 712.8 457.7 715.1 458.1 C717.3 458.5 717.2 458.3 720.0 459.3 C722.8 460.3 727.6 463.3 731.2 463.8 C734.7 464.3 737.1 462.1 740.3 462.4 C743.5 462.6 746.3 464.9 749.5 465.2 C752.7 465.6 755.8 464.3 758.6 464.4 C761.5 464.5 763.1 464.6 765.7 465.8 C768.4 467.1 771.2 470.6 773.9 471.5 C776.5 472.4 778.0 470.2 781.0 470.9 C784.0 471.6 787.8 474.8 791.2 475.4 C794.5 476.0 797.1 474.4 800.3 474.4 C803.5 474.4 806.4 475.0 809.4 475.4 C812.5 475.7 814.6 475.0 817.6 476.4 C820.6 477.8 823.7 482.6 826.7 483.5 C829.8 484.4 832.0 480.9 834.9 481.5 C837.7 482.0 840.0 486.1 843.0 486.6 C846.0 487.0 849.1 483.0 852.1 484.1 C855.2 485.2 857.4 491.1 860.3 492.9 C863.1 494.6 865.4 493.6 868.4 494.3 C871.4 495.0 874.4 497.3 877.6 496.7 C880.8 496.2 883.7 491.7 886.7 491.2 C889.7 490.7 891.8 496.6 894.8 493.9 C897.9 491.1 901.1 479.0 904.0 475.6 C906.8 472.2 908.4 473.8 911.1 474.4 C913.8 475.0 916.2 477.8 919.2 479.0 C922.3 480.3 925.0 482.0 928.4 481.7 C931.8 481.4 935.3 477.0 938.5 477.4 C941.7 477.8 943.6 484.0 946.7 484.1 C949.7 484.2 952.8 478.7 955.8 478.0 C958.8 477.4 961.1 480.8 964.0 480.5 C966.8 480.1 970.2 476.8 972.1 476.0 C974.0 475.2 973.3 475.5 975.0 475.9 C976.7 476.2 979.1 478.3 981.6 477.8 C984.1 477.3 987.1 472.5 989.2 473.0 C991.3 473.5 991.9 476.3 993.6 480.7 C995.3 485.0 996.6 495.1 999.1 497.7 C1001.6 500.4 1005.0 496.2 1007.8 496.0 C1010.7 495.8 1012.6 496.9 1015.5 496.4 C1018.4 495.9 1021.4 494.6 1024.3 493.2 C1027.1 491.7 1028.9 489.2 1031.9 488.3 C1035.0 487.5 1038.5 489.3 1041.8 488.3 C1045.0 487.4 1047.5 483.6 1050.5 482.9 C1053.6 482.1 1056.2 484.2 1059.3 484.0 C1062.3 483.7 1065.0 482.2 1068.0 481.3 C1071.1 480.4 1073.7 479.7 1076.8 478.9 C1079.9 478.1 1082.5 477.3 1085.6 476.7 C1088.6 476.2 1091.2 475.8 1094.3 475.6 C1097.4 475.5 1100.0 476.7 1103.1 475.9 C1106.1 475.0 1108.8 472.6 1111.8 470.8 C1114.9 469.1 1117.5 466.7 1120.6 465.8 C1123.6 464.8 1126.5 466.0 1129.3 465.4 C1132.2 464.7 1134.1 461.8 1137.0 462.1 C1139.9 462.3 1142.7 467.1 1145.8 466.9 C1148.8 466.7 1151.4 461.0 1154.5 461.0 C1157.6 460.9 1160.0 466.1 1163.3 466.4 C1166.5 466.8 1170.1 463.9 1173.1 462.7 C1176.2 461.6 1177.9 460.3 1180.8 459.9 C1183.7 459.5 1186.5 460.0 1189.5 460.3 C1192.6 460.6 1195.4 461.1 1198.3 461.6 C1201.2 462.2 1202.9 464.3 1206.0 463.6 C1209.0 462.9 1212.5 458.7 1215.8 457.9 C1219.1 457.1 1221.5 459.1 1224.6 458.8 C1227.6 458.4 1230.4 456.3 1233.3 455.9 C1236.2 455.6 1238.1 455.0 1241.0 456.6 C1243.9 458.2 1248.2 463.5 1249.7 464.9" fill="none" stroke="#34d399" stroke-width="2.4" stroke-linejoin="round" stroke-linecap="round"/>
<path d="M213.0 492.7 C214.5 493.8 218.2 499.3 221.2 499.4 C224.2 499.5 227.3 494.1 230.3 493.3 C233.4 492.5 235.4 494.4 238.5 494.9 C241.5 495.4 244.4 495.0 247.6 496.3 C250.8 497.6 253.7 501.7 256.8 502.4 C259.8 503.1 262.0 500.9 264.9 500.4 C267.7 499.8 270.0 499.4 273.0 499.4 C276.0 499.4 279.0 501.1 282.2 500.4 C285.4 499.7 288.1 496.8 291.3 495.3 C294.5 493.8 297.3 492.6 300.5 491.8 C303.7 491.1 306.6 491.2 309.6 490.8 C312.6 490.4 314.9 489.4 317.7 489.6 C320.6 489.8 323.0 491.6 325.9 491.8 C328.7 492.1 331.2 491.5 334.0 491.2 C336.9 491.0 339.3 491.3 342.1 490.2 C345.0 489.2 347.4 486.7 350.3 485.1 C353.1 483.5 355.2 481.3 358.4 481.1 C361.6 480.8 365.4 483.3 368.6 483.7 C371.8 484.2 373.9 483.8 376.7 483.7 C379.5 483.6 381.6 484.6 384.8 483.1 C388.0 481.6 391.8 475.8 395.0 475.0 C398.2 474.2 400.3 479.3 403.1 478.4 C406.0 477.5 408.4 471.3 411.3 469.9 C414.1 468.5 416.4 470.8 419.4 470.3 C422.4 469.8 425.3 467.1 428.5 467.2 C431.7 467.4 434.5 471.4 437.7 471.3 C440.9 471.2 443.6 468.4 446.8 466.8 C450.0 465.2 453.0 462.6 456.0 462.2 C459.0 461.7 461.1 463.6 464.1 464.2 C467.1 464.8 470.1 465.7 473.1 465.4 C476.1 465.2 478.4 463.6 481.3 462.8 C484.1 462.0 486.4 461.3 489.4 460.7 C492.4 460.2 495.5 459.8 498.5 459.7 C501.6 459.6 503.8 460.2 506.7 460.1 C509.5 460.1 511.8 460.0 514.8 459.3 C517.8 458.6 521.1 455.8 524.0 456.3 C526.8 456.7 528.2 460.4 531.1 461.8 C533.9 463.1 537.0 464.6 540.2 464.2 C543.4 463.8 546.2 459.4 549.4 459.7 C552.6 460.0 555.5 465.0 558.5 465.8 C561.5 466.6 563.6 464.0 566.6 464.4 C569.7 464.8 572.6 468.5 575.8 468.3 C579.0 468.0 582.1 464.0 584.9 463.2 C587.8 462.4 589.2 463.2 592.1 463.8 C594.9 464.4 598.2 466.0 601.2 466.8 C604.2 467.7 606.3 467.2 609.3 468.9 C612.4 470.5 615.3 475.9 618.5 476.4 C621.7 476.9 624.6 472.0 627.6 471.9 C630.7 471.9 632.9 474.9 635.8 476.0 C638.6 477.1 641.1 477.1 643.9 478.0 C646.7 478.9 649.0 479.6 652.0 481.1 C655.1 482.5 658.0 486.0 661.2 486.2 C664.4 486.3 667.3 481.4 670.3 482.1 C673.4 482.8 675.4 489.1 678.5 490.2 C681.5 491.4 684.4 489.3 687.6 488.6 C690.8 487.9 693.6 485.6 696.8 486.2 C700.0 486.7 702.7 491.1 705.9 491.8 C709.1 492.6 712.6 490.2 715.1 490.2 C717.5 490.2 717.2 490.7 720.0 491.8 C722.8 493.0 727.6 496.8 731.2 496.9 C734.7 497.1 737.3 493.3 740.3 492.7 C743.4 492.0 745.4 491.8 748.5 493.3 C751.5 494.7 754.6 499.5 757.6 500.8 C760.6 502.0 762.9 500.0 765.7 500.4 C768.6 500.7 771.0 503.4 773.9 502.8 C776.7 502.3 779.0 497.4 782.0 497.3 C785.0 497.3 788.0 503.1 791.2 502.4 C794.4 501.7 797.1 494.7 800.3 493.3 C803.5 491.8 806.4 494.5 809.4 494.3 C812.5 494.1 814.6 492.7 817.6 492.3 C820.6 491.8 823.7 492.0 826.7 491.8 C829.8 491.7 831.8 490.7 834.9 491.2 C837.9 491.8 841.0 495.0 844.0 494.9 C847.0 494.8 849.1 491.4 852.1 490.8 C855.2 490.3 858.1 492.4 861.3 491.8 C864.5 491.3 867.4 489.1 870.4 487.8 C873.5 486.5 875.7 484.9 878.6 484.5 C881.4 484.1 883.9 486.1 886.7 485.5 C889.5 484.9 892.7 483.1 894.8 481.1 C897.0 479.0 897.3 477.7 898.9 474.0 C900.5 470.2 901.7 462.4 904.0 459.7 C906.3 457.1 909.1 459.0 912.1 458.7 C915.1 458.4 918.1 458.9 921.3 458.1 C924.5 457.3 927.4 454.7 930.4 454.2 C933.4 453.7 935.7 456.0 938.5 455.3 C941.4 454.5 943.6 451.0 946.7 450.0 C949.7 448.9 952.8 450.4 955.8 449.2 C958.8 447.9 961.1 443.1 964.0 443.1 C966.8 443.0 970.2 448.0 972.1 448.9 C974.0 449.9 973.3 448.9 975.0 448.3 C976.7 447.7 979.1 446.3 981.6 445.6 C984.1 445.0 987.1 443.4 989.2 444.6 C991.3 445.7 991.9 448.9 993.6 452.2 C995.3 455.5 996.6 461.4 999.1 463.6 C1001.6 465.8 1005.0 465.2 1007.8 464.9 C1010.7 464.6 1012.6 462.8 1015.5 462.1 C1018.4 461.4 1021.2 460.6 1024.3 461.0 C1027.3 461.4 1029.9 464.3 1033.0 464.3 C1036.1 464.3 1038.7 461.8 1041.8 461.0 C1044.8 460.1 1047.5 459.8 1050.5 459.4 C1053.6 459.1 1056.2 457.9 1059.3 458.8 C1062.3 459.6 1065.0 463.7 1068.0 464.3 C1071.1 464.8 1073.7 461.8 1076.8 462.1 C1079.9 462.3 1082.5 464.9 1085.6 465.8 C1088.6 466.7 1091.2 466.2 1094.3 467.1 C1097.4 468.0 1100.0 471.4 1103.1 471.0 C1106.1 470.7 1108.8 465.5 1111.8 464.9 C1114.9 464.3 1117.5 466.9 1120.6 467.5 C1123.6 468.2 1126.5 467.4 1129.3 468.6 C1132.2 469.9 1134.1 473.5 1137.0 474.5 C1139.9 475.6 1142.7 475.0 1145.8 474.8 C1148.8 474.5 1151.4 473.1 1154.5 473.0 C1157.6 473.0 1160.2 473.6 1163.3 474.5 C1166.3 475.5 1169.0 477.6 1172.0 478.5 C1175.1 479.3 1177.7 478.8 1180.8 479.4 C1183.8 479.9 1186.5 480.7 1189.5 481.8 C1192.6 482.9 1195.2 484.9 1198.3 485.7 C1201.4 486.5 1204.0 484.7 1207.0 486.1 C1210.1 487.6 1212.7 493.0 1215.8 493.8 C1218.9 494.6 1221.7 490.6 1224.6 490.7 C1227.4 490.9 1229.4 494.9 1232.2 494.9 C1235.1 494.9 1237.9 490.0 1241.0 490.5 C1244.0 491.0 1248.2 496.5 1249.7 497.7" fill="none" stroke="#fbbf24" stroke-width="2.4" stroke-linejoin="round" stroke-linecap="round"/>
</g>
<line x1="213.5" y1="597.5" x2="1250" y2="597.5" stroke="#1f2739" stroke-width="1"/>
<text x="211.5" y="600.4" text-anchor="end" font-size="8.8" font-weight="bold" fill="#b4bac6" stroke="#b4bac6" stroke-width="0.25">58</text>
<line x1="213.5" y1="626.5" x2="1250" y2="626.5" stroke="#1f2739" stroke-width="1"/>
<text x="211.5" y="629.4" text-anchor="end" font-size="8.8" font-weight="bold" fill="#b4bac6" stroke="#b4bac6" stroke-width="0.25">56</text>
<line x1="213.5" y1="656.5" x2="1250" y2="656.5" stroke="#1f2739" stroke-width="1"/>
<text x="211.5" y="659.4" text-anchor="end" font-size="8.8" font-weight="bold" fill="#b4bac6" stroke="#b4bac6" stroke-width="0.25">54</text>
<line x1="213.5" y1="685.5" x2="1250" y2="685.5" stroke="#1f2739" stroke-width="1"/>
<text x="211.5" y="688.4" text-anchor="end" font-size="8.8" font-weight="bold" fill="#b4bac6" stroke="#b4bac6" stroke-width="0.25">52</text>
<line x1="218.4" y1="597.5" x2="218.4" y2="690.5" stroke="#1f2739" stroke-width="1"/>
<text x="218.4" y="700" text-anchor="middle" font-size="8" font-weight="bold" fill="#b4bac6" stroke="#b4bac6" stroke-width="0.2">01/02 14:09:00</text>
<line x1="355.9" y1="597.5" x2="355.9" y2="690.5" stroke="#1f2739" stroke-width="1"/>
<text x="355.9" y="700" text-anchor="middle" font-size="8" font-weight="bold" fill="#b4bac6" stroke="#b4bac6" stroke-width="0.2">01/02 14:17:00</text>
<line x1="493.4" y1="597.5" x2="493.4" y2="690.5" stroke="#1f2739" stroke-width="1"/>
<text x="493.4" y="700" text-anchor="middle" font-size="8" font-weight="bold" fill="#b4bac6" stroke="#b4bac6" stroke-width="0.2">01/02 14:25:00</text>
<line x1="630.9" y1="597.5" x2="630.9" y2="690.5" stroke="#1f2739" stroke-width="1"/>
<text x="630.9" y="700" text-anchor="middle" font-size="8" font-weight="bold" fill="#b4bac6" stroke="#b4bac6" stroke-width="0.2">01/02 14:33:00</text>
<line x1="768.4" y1="597.5" x2="768.4" y2="690.5" stroke="#1f2739" stroke-width="1"/>
<text x="768.4" y="700" text-anchor="middle" font-size="8" font-weight="bold" fill="#b4bac6" stroke="#b4bac6" stroke-width="0.2">01/02 14:41:00</text>
<line x1="905.9" y1="597.5" x2="905.9" y2="690.5" stroke="#1f2739" stroke-width="1"/>
<text x="905.9" y="700" text-anchor="middle" font-size="8" font-weight="bold" fill="#b4bac6" stroke="#b4bac6" stroke-width="0.2">01/02 14:49:00</text>
<line x1="1043.4" y1="597.5" x2="1043.4" y2="690.5" stroke="#1f2739" stroke-width="1"/>
<text x="1043.4" y="700" text-anchor="middle" font-size="8" font-weight="bold" fill="#b4bac6" stroke="#b4bac6" stroke-width="0.2">01/02 14:57:00</text>
<line x1="1180.9" y1="597.5" x2="1180.9" y2="690.5" stroke="#1f2739" stroke-width="1"/>
<text x="1180.9" y="700" text-anchor="middle" font-size="8" font-weight="bold" fill="#b4bac6" stroke="#b4bac6" stroke-width="0.2">01/02 15:05:00</text>
<text x="0" y="0" transform="translate(193.5,640.5) rotate(-90)" text-anchor="middle" font-size="8.8" font-weight="bold" fill="#c3c8d2" stroke="#c3c8d2" stroke-width="0.5" letter-spacing="-0.6">°C</text>
<line x1="218" y1="637.3" x2="1250" y2="637.3" stroke="#2563eb" stroke-width="2" stroke-dasharray="4.5 3.5" stroke-dashoffset="7" opacity="0.68"/>
<path d="M218.1 638.8 C219.7 639.1 224.3 640.8 227.3 640.4 C230.3 640.0 232.6 636.9 235.4 636.4 C238.3 635.8 240.5 637.1 243.5 637.4 C246.6 637.7 249.7 639.0 252.7 638.0 C255.7 636.9 258.0 632.7 260.8 631.3 C263.7 629.8 265.8 629.8 269.0 629.6 C272.2 629.5 275.9 630.6 279.1 630.3 C282.3 629.9 284.4 627.9 287.3 627.8 C290.1 627.7 292.5 630.0 295.4 629.8 C298.2 629.7 300.7 628.2 303.5 627.2 C306.4 626.2 308.6 624.7 311.6 624.2 C314.7 623.6 317.6 624.4 320.8 624.2 C324.0 623.9 326.7 623.8 329.9 622.9 C333.1 622.1 336.2 619.9 339.1 619.5 C341.9 619.1 343.4 621.0 346.2 620.5 C349.1 620.0 352.2 617.1 355.4 616.8 C358.6 616.6 361.5 619.0 364.5 619.1 C367.5 619.1 369.8 617.8 372.6 617.0 C375.5 616.3 377.9 615.4 380.8 614.8 C383.6 614.2 386.6 613.3 388.9 613.4 C391.2 613.5 391.5 614.7 394.0 615.4 C396.4 616.2 398.3 617.5 402.9 617.6 C407.5 617.7 413.5 616.8 420.0 616.2 C426.5 615.6 433.2 615.0 440.0 614.2 C446.8 613.4 453.3 611.8 458.8 611.6 C464.3 611.4 468.4 612.8 471.7 612.9 C475.0 613.0 475.4 612.5 477.5 612.0 C479.6 611.5 481.7 610.0 483.7 609.9 C485.7 609.8 486.4 610.6 488.9 611.6 C491.4 612.6 494.4 615.6 498.1 615.4 C501.9 615.2 506.6 610.7 510.3 610.3 C514.1 610.0 516.5 612.4 519.5 613.4 C522.5 614.4 524.6 616.4 527.6 616.0 C530.6 615.7 533.7 611.5 536.8 611.3 C539.8 611.2 542.0 614.6 544.9 615.0 C547.7 615.4 550.0 612.8 553.0 613.4 C556.0 613.9 559.1 617.4 562.2 618.1 C565.2 618.7 567.3 617.7 570.3 617.0 C573.3 616.4 576.4 614.1 579.4 614.4 C582.5 614.6 584.4 617.2 587.6 618.5 C590.8 619.7 594.5 621.1 597.7 621.5 C600.9 621.9 603.0 621.4 605.9 620.9 C608.7 620.4 611.3 619.1 614.0 618.9 C616.7 618.6 618.3 618.4 621.1 619.5 C624.0 620.5 627.1 623.5 630.3 625.0 C633.5 626.5 636.4 628.1 639.4 628.0 C642.4 627.9 644.5 624.2 647.6 624.6 C650.6 625.0 653.3 630.0 656.7 630.3 C660.1 630.5 663.8 626.7 666.9 626.2 C669.9 625.7 671.1 626.1 674.0 627.2 C676.8 628.3 680.3 632.0 683.1 632.7 C686.0 633.4 687.2 630.4 690.2 631.1 C693.3 631.8 697.2 635.8 700.4 636.8 C703.6 637.8 705.7 636.5 708.5 636.8 C711.4 637.0 713.8 637.5 716.7 638.2 C719.5 638.8 722.0 640.5 724.8 640.4 C727.6 640.3 730.1 637.5 732.9 637.8 C735.8 638.0 739.0 640.9 741.1 641.8 C743.2 642.8 742.9 642.7 745.0 643.3 C747.1 643.8 750.3 644.2 753.1 644.9 C756.0 645.6 758.4 647.3 761.3 647.3 C764.1 647.3 766.5 645.0 769.4 644.9 C772.2 644.8 774.7 645.8 777.5 646.9 C780.4 648.1 782.8 650.8 785.7 651.4 C788.5 652.0 790.9 650.3 793.8 650.4 C796.6 650.5 798.9 650.7 801.9 652.0 C804.9 653.3 807.9 657.3 811.1 657.7 C814.3 658.1 817.2 654.6 820.2 654.0 C823.2 653.5 825.5 654.0 828.4 654.4 C831.2 654.9 833.5 655.4 836.5 656.7 C839.5 657.9 842.4 660.6 845.6 661.6 C848.8 662.5 851.8 662.0 854.8 662.2 C857.8 662.3 859.9 662.1 862.9 662.6 C865.9 663.0 869.0 664.5 872.1 664.8 C875.1 665.1 877.2 664.6 880.2 664.2 C883.2 663.8 886.5 662.5 889.3 662.6 C892.2 662.6 894.5 666.4 896.5 664.4 C898.4 662.4 899.3 656.9 900.5 651.0 C901.8 645.1 902.5 636.1 903.6 630.7 C904.6 625.3 904.8 621.7 906.6 620.1 C908.4 618.5 910.9 620.3 913.7 621.5 C916.6 622.7 919.9 626.2 922.9 627.0 C925.9 627.8 928.0 626.5 931.0 626.0 C934.0 625.4 937.1 623.8 940.2 623.9 C943.2 624.1 945.4 626.3 948.3 627.0 C951.1 627.7 953.6 627.9 956.4 628.2 C959.3 628.5 961.7 629.1 964.6 628.6 C967.4 628.2 969.8 626.4 972.7 625.6 C975.5 624.8 977.6 624.3 980.8 624.2 C984.0 624.0 988.7 623.8 991.0 625.0 C993.3 626.1 993.0 626.1 994.0 630.7 C995.1 635.2 996.0 644.2 997.1 651.0 C998.2 657.7 998.0 665.7 1000.1 669.3 C1002.2 672.8 1006.0 670.7 1009.1 671.3 C1012.3 672.0 1015.3 673.3 1018.3 672.9 C1021.3 672.6 1023.6 669.6 1026.4 669.3 C1029.3 669.0 1031.5 671.7 1034.6 671.3 C1037.6 671.0 1040.7 667.8 1043.7 667.3 C1046.7 666.7 1049.0 667.6 1051.8 668.3 C1054.7 669.0 1057.1 671.5 1060.0 671.3 C1062.8 671.1 1065.1 668.6 1068.1 667.3 C1071.1 665.9 1074.0 663.3 1077.3 663.6 C1080.5 663.9 1083.4 668.2 1086.4 668.9 C1089.4 669.5 1091.5 668.3 1094.5 667.3 C1097.6 666.2 1100.7 663.1 1103.7 662.8 C1106.7 662.4 1109.0 665.4 1111.8 665.2 C1114.7 665.0 1117.1 662.4 1119.9 661.6 C1122.8 660.7 1125.1 661.1 1128.1 660.1 C1131.1 659.2 1134.0 655.9 1137.2 656.1 C1140.4 656.2 1143.2 660.9 1146.4 661.2 C1149.6 661.4 1152.5 658.8 1155.5 657.7 C1158.5 656.6 1160.6 655.0 1163.7 654.6 C1166.7 654.3 1169.8 655.8 1172.8 655.5 C1175.8 655.1 1178.1 653.1 1180.9 652.6 C1183.8 652.1 1186.2 653.1 1189.1 652.6 C1191.9 652.1 1194.3 650.4 1197.2 649.6 C1200.0 648.7 1202.3 648.1 1205.3 647.9 C1208.4 647.8 1211.3 649.4 1214.5 648.5 C1217.7 647.7 1220.6 643.3 1223.6 642.9 C1226.6 642.4 1228.9 645.4 1231.8 645.9 C1234.6 646.4 1236.9 646.6 1239.9 645.5 C1242.9 644.4 1247.4 640.8 1249.0 639.8" fill="none" stroke="#2563eb" stroke-width="2.6" stroke-linejoin="round" stroke-linecap="round"/>
<circle cx="390" cy="612.4" r="2.5" fill="none" stroke="#2563eb" stroke-width="1.2"/>
<circle cx="390" cy="637.2" r="2.5" fill="none" stroke="#2563eb" stroke-width="1.2"/>
<line x1="208.5" y1="779.5" x2="1250" y2="779.5" stroke="#1f2739" stroke-width="1"/>
<text x="206" y="782.4" text-anchor="end" font-size="8.8" font-weight="bold" fill="#b4bac6" stroke="#b4bac6" stroke-width="0.25">1.2</text>
<line x1="208.5" y1="801.5" x2="1250" y2="801.5" stroke="#1f2739" stroke-width="1"/>
<text x="206" y="804.4" text-anchor="end" font-size="8.8" font-weight="bold" fill="#b4bac6" stroke="#b4bac6" stroke-width="0.25">1.0</text>
<line x1="208.5" y1="823.5" x2="1250" y2="823.5" stroke="#1f2739" stroke-width="1"/>
<text x="206" y="826.4" text-anchor="end" font-size="8.8" font-weight="bold" fill="#b4bac6" stroke="#b4bac6" stroke-width="0.25">0.8</text>
<line x1="208.5" y1="845.5" x2="1250" y2="845.5" stroke="#1f2739" stroke-width="1"/>
<text x="206" y="848.4" text-anchor="end" font-size="8.8" font-weight="bold" fill="#b4bac6" stroke="#b4bac6" stroke-width="0.25">0.6</text>
<line x1="208.5" y1="867.5" x2="1250" y2="867.5" stroke="#1f2739" stroke-width="1"/>
<text x="206" y="870.4" text-anchor="end" font-size="8.8" font-weight="bold" fill="#b4bac6" stroke="#b4bac6" stroke-width="0.25">0.4</text>
<line x1="213.4" y1="779.5" x2="213.4" y2="872.5" stroke="#1f2739" stroke-width="1"/>
<text x="213.4" y="882" text-anchor="middle" font-size="8" font-weight="bold" fill="#b4bac6" stroke="#b4bac6" stroke-width="0.2">01/02 14:09:00</text>
<line x1="351.5" y1="779.5" x2="351.5" y2="872.5" stroke="#1f2739" stroke-width="1"/>
<text x="351.5" y="882" text-anchor="middle" font-size="8" font-weight="bold" fill="#b4bac6" stroke="#b4bac6" stroke-width="0.2">01/02 14:17:00</text>
<line x1="489.7" y1="779.5" x2="489.7" y2="872.5" stroke="#1f2739" stroke-width="1"/>
<text x="489.7" y="882" text-anchor="middle" font-size="8" font-weight="bold" fill="#b4bac6" stroke="#b4bac6" stroke-width="0.2">01/02 14:25:00</text>
<line x1="627.8" y1="779.5" x2="627.8" y2="872.5" stroke="#1f2739" stroke-width="1"/>
<text x="627.8" y="882" text-anchor="middle" font-size="8" font-weight="bold" fill="#b4bac6" stroke="#b4bac6" stroke-width="0.2">01/02 14:33:00</text>
<line x1="766.0" y1="779.5" x2="766.0" y2="872.5" stroke="#1f2739" stroke-width="1"/>
<text x="766.0" y="882" text-anchor="middle" font-size="8" font-weight="bold" fill="#b4bac6" stroke="#b4bac6" stroke-width="0.2">01/02 14:41:00</text>
<line x1="904.1" y1="779.5" x2="904.1" y2="872.5" stroke="#1f2739" stroke-width="1"/>
<text x="904.1" y="882" text-anchor="middle" font-size="8" font-weight="bold" fill="#b4bac6" stroke="#b4bac6" stroke-width="0.2">01/02 14:49:00</text>
<line x1="1042.3" y1="779.5" x2="1042.3" y2="872.5" stroke="#1f2739" stroke-width="1"/>
<text x="1042.3" y="882" text-anchor="middle" font-size="8" font-weight="bold" fill="#b4bac6" stroke="#b4bac6" stroke-width="0.2">01/02 14:57:00</text>
<line x1="1180.4" y1="779.5" x2="1180.4" y2="872.5" stroke="#1f2739" stroke-width="1"/>
<text x="1180.4" y="882" text-anchor="middle" font-size="8" font-weight="bold" fill="#b4bac6" stroke="#b4bac6" stroke-width="0.2">01/02 15:05:00</text>
<line x1="213" y1="830" x2="1250" y2="830" stroke="#f0913a" stroke-width="1.9" stroke-dasharray="4 4" opacity="0.78"/>
<path d="M213.1 845.2 C214.6 845.2 218.4 845.4 221.3 845.2 C224.1 845.0 226.4 845.1 229.4 844.2 C232.4 843.3 235.3 841.3 238.5 840.1 C241.7 839.0 244.7 838.7 247.7 837.5 C250.7 836.3 252.8 835.6 255.8 833.4 C258.8 831.3 261.9 825.8 265.0 825.3 C268.0 824.8 270.1 831.2 273.1 830.4 C276.1 829.6 279.2 821.6 282.3 820.8 C285.3 820.0 287.2 824.2 290.4 825.9 C293.6 827.6 297.3 829.8 300.5 830.4 C303.7 831.0 305.8 829.8 308.7 829.4 C311.5 828.9 314.0 828.3 316.8 827.9 C319.7 827.6 322.1 826.4 324.9 827.5 C327.8 828.7 330.1 834.4 333.1 834.4 C336.1 834.4 339.0 828.5 342.2 827.5 C345.4 826.6 348.3 826.7 351.4 829.0 C354.4 831.2 356.5 839.1 359.5 840.5 C362.5 842.0 365.4 836.7 368.7 837.1 C371.9 837.4 374.8 841.9 377.8 842.6 C380.8 843.2 383.1 841.5 385.9 840.7 C388.8 840.0 391.2 837.7 394.1 838.1 C396.9 838.5 399.3 843.9 402.2 842.8 C405.0 841.6 407.3 833.1 410.3 831.6 C413.4 830.1 416.3 833.7 419.5 834.0 C422.7 834.4 425.6 833.5 428.6 833.6 C431.6 833.8 433.9 836.6 436.8 835.1 C439.6 833.5 441.9 827.5 444.9 824.9 C447.9 822.3 451.4 820.3 454.0 820.4 C456.7 820.5 458.4 823.6 460.1 825.3 C461.9 827.0 462.0 830.9 464.1 830.4 C466.2 829.8 469.4 822.8 472.2 822.2 C475.0 821.7 477.3 827.2 480.3 827.3 C483.4 827.5 486.5 822.9 489.5 823.3 C492.5 823.7 494.6 828.0 497.6 829.6 C500.6 831.2 503.7 832.4 506.8 832.4 C509.8 832.4 511.9 828.7 514.9 829.4 C517.9 830.0 521.0 835.8 524.0 836.1 C527.1 836.4 530.0 831.5 532.2 831.0 C534.3 830.5 533.9 830.7 536.2 833.0 C538.5 835.3 542.4 841.6 545.4 844.2 C548.4 846.8 550.7 847.5 553.5 847.7 C556.4 847.8 558.8 846.5 561.6 845.2 C564.5 843.9 566.9 841.6 569.8 840.1 C572.6 838.7 575.4 838.5 577.9 837.1 C580.4 835.7 581.3 831.9 584.0 832.0 C586.7 832.1 590.1 838.0 593.2 837.5 C596.2 837.0 598.4 831.1 601.3 829.0 C604.1 826.8 606.6 825.2 609.4 825.3 C612.3 825.4 614.4 829.6 617.6 829.4 C620.8 829.1 624.3 824.1 627.7 823.9 C631.1 823.6 633.8 827.9 636.9 827.9 C639.9 827.9 642.0 823.9 645.0 823.9 C648.0 823.8 650.9 826.6 654.1 827.5 C657.3 828.5 660.3 829.6 663.3 829.4 C666.3 829.1 668.8 826.9 671.4 825.9 C674.1 824.9 675.7 822.6 678.5 823.9 C681.4 825.2 684.5 831.1 687.7 833.4 C690.9 835.7 693.8 836.0 696.8 837.1 C699.9 838.2 702.1 839.5 705.0 839.5 C707.8 839.6 709.9 836.2 713.1 837.5 C716.3 838.7 720.0 845.9 723.1 846.6 C726.3 847.4 728.4 842.2 731.3 841.6 C734.1 840.9 736.5 843.2 739.4 842.8 C742.2 842.4 744.5 840.9 747.5 839.1 C750.6 837.3 753.5 833.8 756.7 832.6 C759.9 831.5 762.8 833.3 765.8 832.6 C768.8 831.9 770.9 829.1 774.0 828.5 C777.0 828.0 780.1 830.3 783.1 829.4 C786.1 828.4 788.2 824.7 791.2 823.3 C794.3 821.8 797.4 821.2 800.4 821.2 C803.4 821.2 805.5 822.9 808.5 823.3 C811.5 823.6 814.6 823.1 817.7 823.3 C820.7 823.4 822.9 823.2 825.8 824.3 C828.6 825.3 830.9 829.9 833.9 829.4 C837.0 828.9 839.9 821.3 843.1 821.4 C846.3 821.6 849.0 828.0 852.2 830.4 C855.4 832.8 858.2 834.1 861.4 835.1 C864.6 836.1 867.7 835.9 870.5 836.1 C873.4 836.3 875.0 836.5 877.6 836.3 C880.3 836.0 882.7 833.1 885.8 834.6 C888.8 836.2 892.6 845.9 894.9 845.2 C897.2 844.6 897.4 836.7 899.0 831.0 C900.6 825.3 901.8 815.5 904.1 812.7 C906.4 809.9 909.2 816.2 912.2 815.1 C915.2 814.1 918.3 807.1 921.3 806.6 C924.4 806.1 926.5 812.5 929.5 812.3 C932.5 812.1 935.6 807.9 938.6 805.6 C941.6 803.3 943.7 798.9 946.8 799.1 C949.8 799.2 952.9 806.6 955.9 806.6 C958.9 806.6 961.4 800.6 964.0 799.1 C966.7 797.5 968.2 797.6 971.1 797.9 C974.1 798.1 977.8 801.0 981.1 800.5 C984.4 800.0 987.7 794.1 990.1 795.0 C992.4 795.9 993.0 801.0 994.5 805.7 C996.1 810.3 996.6 818.6 999.0 821.2 C1001.3 823.9 1005.0 819.3 1007.9 820.8 C1010.8 822.3 1012.8 828.3 1015.7 829.7 C1018.6 831.2 1021.5 827.9 1024.6 829.0 C1027.7 830.2 1030.4 835.4 1033.5 836.4 C1036.6 837.4 1039.3 834.5 1042.4 834.6 C1045.5 834.8 1048.2 836.3 1051.3 837.3 C1054.4 838.3 1057.1 839.8 1060.2 840.2 C1063.4 840.6 1066.0 839.5 1069.2 839.5 C1072.3 839.5 1075.1 839.9 1078.1 840.2 C1081.0 840.5 1083.1 842.3 1085.9 841.3 C1088.6 840.3 1090.7 835.6 1093.7 834.6 C1096.6 833.6 1099.5 836.1 1102.6 835.7 C1105.7 835.3 1108.4 832.4 1111.5 832.4 C1114.6 832.4 1117.3 836.0 1120.4 835.7 C1123.5 835.4 1126.4 831.8 1129.3 830.6 C1132.2 829.4 1134.2 830.8 1137.1 829.0 C1140.0 827.3 1143.1 822.4 1146.0 820.8 C1148.9 819.2 1150.9 818.8 1153.8 820.1 C1156.7 821.5 1159.6 827.5 1162.7 828.4 C1165.9 829.3 1168.5 825.5 1171.6 825.3 C1174.8 825.0 1177.4 826.9 1180.6 826.8 C1183.7 826.7 1186.4 824.3 1189.5 824.6 C1192.6 824.9 1195.5 826.8 1198.4 828.6 C1201.3 830.4 1203.3 833.7 1206.2 835.1 C1209.1 836.4 1212.0 836.6 1215.1 836.4 C1218.2 836.2 1220.9 833.9 1224.0 834.2 C1227.1 834.4 1230.0 836.7 1232.9 838.0 C1235.8 839.2 1237.8 840.5 1240.7 841.3 C1243.6 842.1 1248.1 842.2 1249.6 842.4" fill="none" stroke="#f0913a" stroke-width="2.6" stroke-linejoin="round" stroke-linecap="round"/>
</svg>
<div class="abs" style="left:395.3px;top:600px;width:103px;height:50.3px;background:rgba(3,6,16,0.85);border:1px solid rgba(40,48,66,0.6);border-radius:5px"></div>
<svg class="abs" style="left:390px;top:619px" width="6" height="11"><path d="M6 0 L0.5 5.5 L6 11Z" fill="rgba(3,6,16,0.85)"/></svg>
<div class="t b" style="left:402.9px;top:608.8px;font-size:7.9px;color:#f3f4f6">01/02 14:19:00</div>
<div class="abs" style="left:402.4px;top:621.8px;width:9.3px;height:9.5px;background:#fff;border:2px solid #2563eb"></div>
<div class="abs" style="left:402.4px;top:633px;width:9.3px;height:9.3px;background:#e5e7eb;border:2px solid #2563eb"></div>
<div class="t" style="left:412.7px;top:622.8px;font-size:8.05px;color:#e5e7eb">Motor Temp: 56.89 °C</div>
<div class="t" style="left:412.7px;top:633.2px;font-size:8.05px;color:#e5e7eb">Motor Temp: 55.27 °C</div>
</body></html>
